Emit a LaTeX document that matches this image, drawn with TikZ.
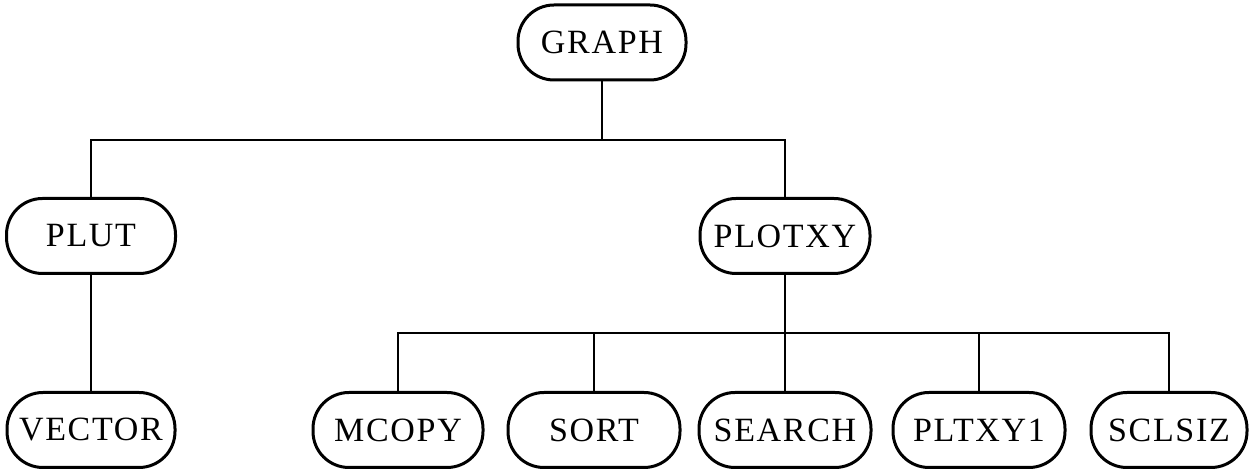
\documentclass[tikz,border=0pt]{standalone}
\usepackage{fontspec}
\setmainfont{Liberation Serif}[LetterSpace=5]
\begin{document}
\begin{tikzpicture}[x=0.5pt,y=-0.5pt,
  mod/.style={draw, line width=1.5pt, rounded corners=18pt, minimum height=37.5pt,
    inner sep=0pt, font=\fontsize{17}{20}\selectfont},
  link/.style={line width=1.4pt}]
\useasboundingbox (0,0) rectangle (1250,469);
\node[mod, minimum width=84pt] (graph) at (602,42.5) {GRAPH};
\node[mod, minimum width=84.5pt] (plut) at (91,236) {PLUT};
\node[mod, minimum width=85pt] (plotxy) at (785,236) {PLOTXY};
\node[mod, minimum width=84pt] (vector) at (91,430) {VECTOR};
\node[mod, minimum width=85pt] (mcopy) at (398,430) {MCOPY};
\node[mod, minimum width=86pt] (sort) at (594,430) {SORT};
\node[mod, minimum width=86pt] (search) at (785,430) {SEARCH};
\node[mod, minimum width=86pt] (pltxy) at (979,430) {PLTXY1};
\node[mod, minimum width=78pt] (sclsiz) at (1169,430) {SCLSIZ};
\coordinate (j1) at (602,140);
\coordinate (j2) at (785,333);
\draw[link] (graph.south) -- (j1);
\draw[link] (plut.north) |- (j1) -| (plotxy.north);
\draw[link] (plut.south) -- (vector.north);
\draw[link] (plotxy.south) -- (j2);
\draw[link] (mcopy.north) |- (j2) -| (sclsiz.north);
\draw[link] (sort.north) -- (sort.north |- j2);
\draw[link] (search.north) -- (search.north |- j2);
\draw[link] (pltxy.north) -- (pltxy.north |- j2);
\end{tikzpicture}
\end{document}
